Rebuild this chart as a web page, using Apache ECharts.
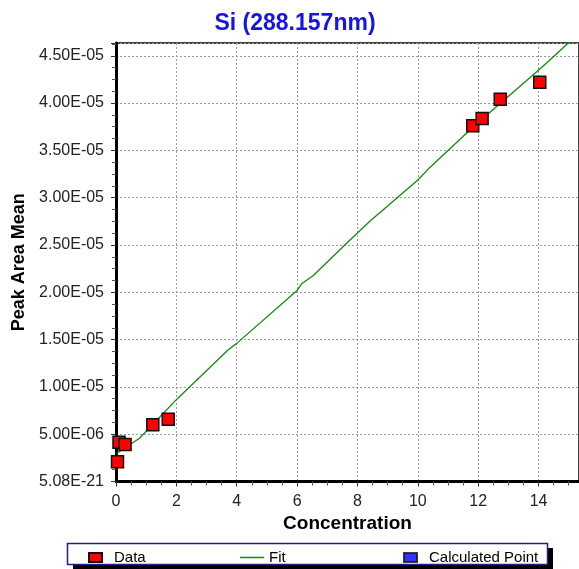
<!DOCTYPE html>
<html>
<head>
<meta charset="utf-8">
<script src="https://cdn.jsdelivr.net/npm/echarts@6/dist/echarts.min.js"></script>
<style>html,body{margin:0;padding:0;background:#fff;}#c{width:579px;height:569px;}</style>
</head>
<body>
<div id="c"></div>
<script>
var titleText = 'Si (288.157nm)';
var xName = 'Concentration';
var yName = 'Peak Area Mean';
var dataX = [0.05, 0.1, 0.3, 1.22, 1.73, 11.82, 12.13, 12.73, 14.04];
var dataY = [2.08e-6, 4.16e-6, 3.92e-6, 6.0e-6, 6.57e-6, 3.761e-5, 3.838e-5, 4.04e-5, 4.22e-5];
var fitX = [0.03, 0.78, 2.0, 3.71, 4.0, 6.0, 6.15, 6.53, 7.58, 8.41, 8.97, 10.01, 10.4, 11.84, 13.94, 14.32, 14.93, 15.2];
var fitY = [2.98e-6, 4.57e-6, 8.65e-6, 1.39e-5, 1.46e-5, 2.02e-5, 2.09e-5, 2.175e-5, 2.5e-5, 2.75e-5, 2.905e-5, 3.19e-5, 3.32e-5, 3.75e-5, 4.33e-5, 4.44e-5, 4.62e-5, 4.68e-5];
var calcX = [];
var calcY = [];
var legendNames = ['Data', 'Fit', 'Calculated Point'];

function zip(a, b) { return a.map(function (v, i) { return [v, b[i]]; }); }
function fmtY(v) {
  if (v === 0) return '5.08E-21';
  var s = v.toExponential(2).toUpperCase();
  var p = s.split('E');
  var e = parseInt(p[1], 10);
  var sign = e < 0 ? '-' : '+';
  var ae = Math.abs(e);
  return p[0] + 'E' + sign + (ae < 10 ? '0' + ae : '' + ae);
}
var FONT = '"Liberation Sans", Arial, sans-serif';
var chart = echarts.init(document.getElementById('c'));
var legText = { fontSize: 15, color: '#000', fontFamily: FONT };
var option = {
  animation: false,
  title: {
    text: titleText, left: 290, top: 7, textAlign: 'center',
    textStyle: { color: '#1414e6', fontSize: 23, fontWeight: 'bold', fontFamily: FONT }
  },
  grid: { left: 116, right: 0, top: 43, bottom: 87.5, show: true, borderColor: '#444', borderWidth: 2, backgroundColor: 'transparent' },
  xAxis: {
    type: 'value', min: 0, max: 15.34, interval: 2,
    name: xName, nameLocation: 'middle', nameGap: 33,
    nameTextStyle: { fontSize: 19, fontWeight: 'bold', color: '#000', fontFamily: FONT },
    axisLine: { show: true, onZero: false, lineStyle: { color: '#000', width: 3 } },
    axisTick: { show: true, length: 5, lineStyle: { color: '#333', width: 1 } },
    minorTick: { show: true, splitNumber: 4, length: 4, lineStyle: { color: '#555', width: 1 } },
    axisLabel: { fontSize: 16, color: '#222', margin: 12, fontFamily: FONT, showMaxLabel: false },
    splitLine: { show: true, lineStyle: { color: '#9a9a9a', type: [2, 2], width: 1 } }
  },
  yAxis: {
    type: 'value', min: 0, max: 4.635e-5, interval: 5e-6,
    name: yName, nameLocation: 'middle', nameGap: 87, nameRotate: 90,
    nameTextStyle: { fontSize: 18, fontWeight: 'bold', color: '#000', fontFamily: FONT },
    axisLine: { show: true, onZero: false, lineStyle: { color: '#000', width: 3 } },
    axisTick: { show: true, length: 5, lineStyle: { color: '#333', width: 1 } },
    minorTick: { show: true, splitNumber: 4, length: 4, lineStyle: { color: '#555', width: 1 } },
    axisLabel: { fontSize: 16, color: '#222', margin: 12, fontFamily: FONT, showMaxLabel: false, formatter: fmtY },
    splitLine: { show: true, lineStyle: { color: '#9a9a9a', type: [2, 2], width: 1 } }
  },
  legend: [
    { data: [{ name: legendNames[0], icon: 'rect' }], left: 83, top: 545, itemWidth: 13, itemHeight: 9, itemGap: 0,
      textStyle: Object.assign({ padding: [0, 0, 0, 7] }, legText) },
    { data: [{ name: legendNames[1], icon: 'path://M0,0L24,0L24,1.5L0,1.5Z' }], left: 235, top: 545, itemWidth: 24, itemHeight: 2, itemGap: 0,
      textStyle: Object.assign({ padding: [0, 0, 0, 0] }, legText) },
    { data: [{ name: legendNames[2], icon: 'rect' }], left: 398, top: 545, itemWidth: 13, itemHeight: 9, itemGap: 0,
      textStyle: Object.assign({ padding: [0, 0, 0, 7] }, legText) }
  ],
  graphic: [
    { type: 'rect', z: -1, shape: { x: 73, y: 548, width: 480, height: 21 }, style: { fill: '#000' } },
    { type: 'rect', z: 0, shape: { x: 67.5, y: 543.5, width: 480, height: 21 }, style: { fill: '#fff', stroke: '#20208a', lineWidth: 1.5 } }
  ],
  series: [
    { name: legendNames[1], type: 'line', data: zip(fitX, fitY), showSymbol: false, symbol: 'none',
      lineStyle: { color: '#118a11', width: 1.3 }, itemStyle: { color: '#118a11' }, z: 2, clip: true },
    { name: legendNames[0], type: 'scatter', data: zip(dataX, dataY), symbol: 'rect', symbolSize: 12,
      itemStyle: { color: '#ff0000', borderColor: '#111', borderWidth: 1.5, opacity: 1 }, z: 3 },
    { name: legendNames[2], type: 'scatter', data: zip(calcX, calcY), symbol: 'rect', symbolSize: 12,
      itemStyle: { color: '#0000ff', borderColor: '#111', borderWidth: 1 }, z: 3 }
  ]
};
chart.setOption(option);
</script>
</body>
</html>
